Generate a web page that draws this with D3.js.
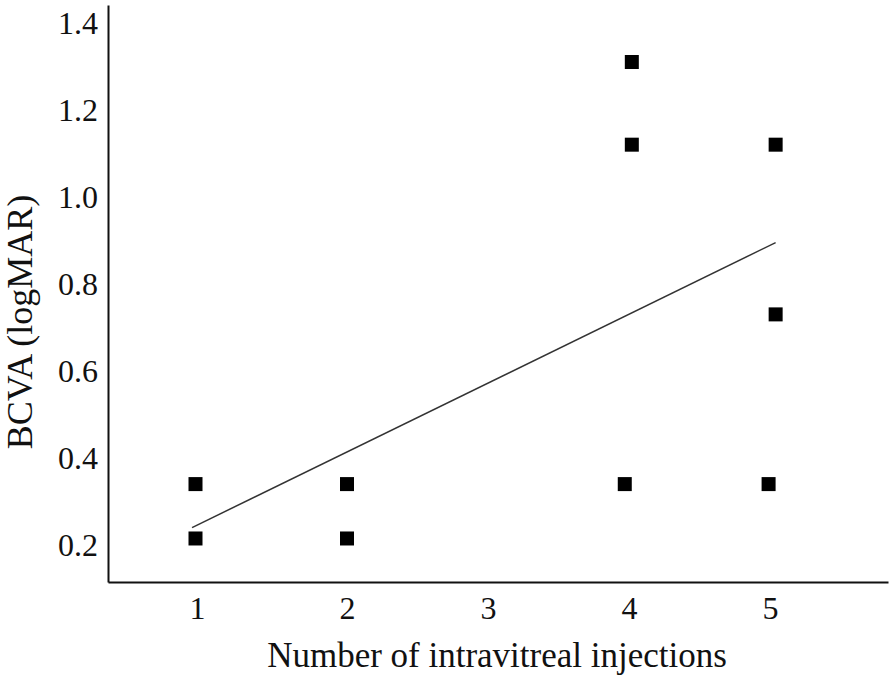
<!DOCTYPE html>
<html><head><meta charset="utf-8">
<script src="https://cdn.jsdelivr.net/npm/d3@7"></script>
<style>body{margin:0;background:#fff}</style>
</head><body>
<script>
const injections = [0.99, 0.99, 2, 2, 3.97, 4.02, 4.02, 4.99, 5.04, 5.04];
const bcva = [0.34, 0.215, 0.34, 0.215, 0.34, 1.31, 1.12, 0.34, 1.12, 0.73];
const xTicks = [1, 2, 3, 4, 5];
const yTicks = [0.2, 0.4, 0.6, 0.8, 1.0, 1.2, 1.4];
const fitX = [0.967, 5.04];
const fitY = [0.24, 0.895];

const W = 896, H = 687;
const svg = d3.select("body").append("svg").attr("width", W).attr("height", H);
const x = d3.scaleLinear().domain([0.407, 1, 2, 5, 5.837]).range([108, 197, 347, 770, 888]);
const y = d3.scaleLinear().domain([0.115, 1.441]).range([582, 5]);
const font = "'Liberation Serif', 'Times New Roman', serif";

const yAxis = svg.append("g").attr("transform", "translate(108,0)")
  .call(d3.axisLeft(y).tickValues(yTicks).tickSize(0).tickPadding(10).tickFormat(d3.format(".1f")));
yAxis.select(".domain").attr("stroke", "#111").attr("stroke-width", 2);
yAxis.selectAll("text").attr("font-family", font).attr("font-size", 32).attr("fill", "#111");

const xAxis = svg.append("g").attr("transform", "translate(0,582)")
  .call(d3.axisBottom(x).tickValues(xTicks).tickSize(0).tickPadding(14).tickFormat(d3.format("d")));
xAxis.select(".domain").attr("stroke", "#111").attr("stroke-width", 2);
xAxis.selectAll("text").attr("font-family", font).attr("font-size", 32).attr("fill", "#111");

svg.append("line")
  .attr("x1", x(fitX[0])).attr("y1", y(fitY[0]))
  .attr("x2", x(fitX[1])).attr("y2", y(fitY[1]))
  .attr("stroke", "#333").attr("stroke-width", 1.5);

const s = 14;
svg.selectAll("rect.pt").data(injections.map((d, i) => [d, bcva[i]])).enter()
  .append("rect").attr("class", "pt")
  .attr("x", d => x(d[0]) - s / 2).attr("y", d => y(d[1]) - s / 2)
  .attr("width", s).attr("height", s).attr("fill", "#000");

svg.append("text").attr("x", 497).attr("y", 667).attr("text-anchor", "middle")
  .attr("font-family", font).attr("font-size", 35).attr("fill", "#111")
  .text("Number of intravitreal injections");
svg.append("text").attr("transform", "translate(32,322) rotate(-90)").attr("text-anchor", "middle")
  .attr("font-family", font).attr("font-size", 36).attr("fill", "#111")
  .text("BCVA (logMAR)");
</script>
</body></html>
